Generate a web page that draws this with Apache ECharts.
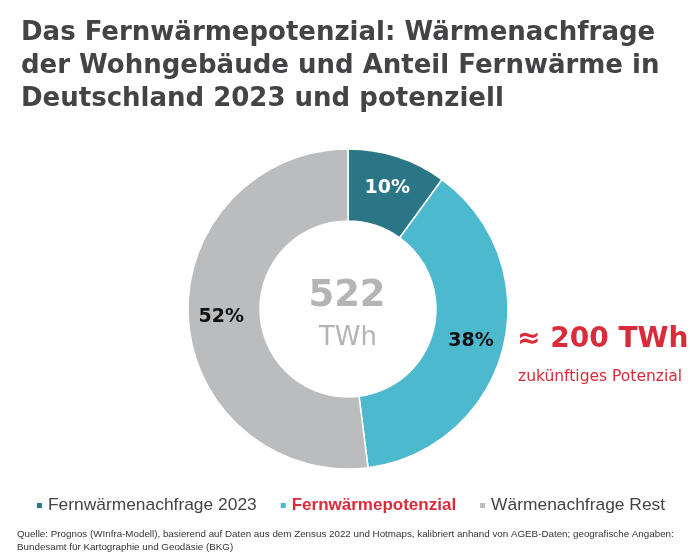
<!DOCTYPE html>
<html><head><meta charset="utf-8">
<script src="https://cdn.jsdelivr.net/npm/echarts@6/dist/echarts.min.js"></script>
<style>html,body{margin:0;padding:0;background:#fff}#c{width:700px;height:557px}</style>
</head><body><div id="c"></div>
<script>
const categories = ['Fernwärmenachfrage 2023', 'Fernwärmepotenzial', 'Wärmenachfrage Rest'];
const shares = [10, 38, 52];
const colors = ['#2b7686', '#4db9ce', '#bbbcbe'];
const labelColors = ['#ffffff', '#111111', '#111111'];
const totalText = ['522', 'TWh'];
const potentialText = ['≈ 200 TWh', 'zukünftiges Potenzial'];
const titleText = 'Das Fernwärmepotenzial: Wärmenachfrage\nder Wohngebäude und Anteil Fernwärme in\nDeutschland 2023 und potenziell';
const sourceText = 'Quelle: Prognos (WInfra-Modell), basierend auf Daten aus dem Zensus 2022 und Hotmaps, kalibriert anhand von AGEB-Daten; geografische Angaben:\nBundesamt für Kartographie und Geodäsie (BKG)';

const chart = echarts.init(document.getElementById('c'), null, {renderer: 'canvas'});
const fontD = '"DejaVu Sans", Verdana, sans-serif';
const fontL = '"Liberation Sans", Arial, sans-serif';
chart.setOption({
  animation: false,
  textStyle: {fontFamily: fontL},
  title: {
    text: titleText, left: 16, top: 12,
    textStyle: {fontSize: 26, fontWeight: 'bold', color: '#444446', lineHeight: 33, fontFamily: fontD}
  },
  legend: {
    data: categories, bottom: 38, left: 'center',
    icon: 'rect', itemWidth: 7, itemHeight: 7, itemGap: 22,
    formatter: n => n === 'Fernwärmepotenzial' ? '{b|' + n + '}' : '{a|' + n + '}',
    textStyle: {
      rich: {
        a: {fontSize: 17.4, color: '#444446', fontFamily: fontL},
        b: {fontSize: 17, color: '#d92b3a', fontWeight: 'bold', fontFamily: fontL}
      }
    }
  },
  series: [{
    type: 'pie', center: [348, 309], radius: [88, 160], startAngle: 90, clockwise: true,
    itemStyle: {borderColor: '#fff', borderWidth: 1.5},
    label: {
      position: 'inside', formatter: '{c}%', fontSize: 19, fontWeight: 'bold', fontFamily: fontD
    },
    emphasis: {disabled: true},
    data: categories.map((n, i) => ({
      name: n, value: shares[i],
      itemStyle: {color: colors[i]},
      label: {color: labelColors[i]}
    }))
  }],
  graphic: [
    {type: 'text', position: [347, 296], style: {text: totalText[0], x: 0, y: 0, align: 'center', verticalAlign: 'middle', font: 'bold 37px ' + fontD, fill: '#b4b4b6'}},
    {type: 'text', position: [348, 338], style: {text: totalText[1], x: 0, y: 0, align: 'center', verticalAlign: 'middle', font: '26px ' + fontD, fill: '#b4b4b6'}},
    {type: 'text', position: [517, 340], style: {text: potentialText[0], x: 0, y: 0, align: 'left', verticalAlign: 'middle', font: 'bold 28px ' + fontD, fill: '#d92b3a'}},
    {type: 'text', position: [518, 377], style: {text: potentialText[1], x: 0, y: 0, align: 'left', verticalAlign: 'middle', font: '15.5px ' + fontD, fill: '#d92b3a'}},
    {type: 'text', position: [17, 528], style: {text: sourceText, x: 0, y: 0, align: 'left', verticalAlign: 'top', font: '9.8px ' + fontL, fill: '#333', lineHeight: 13}}
  ]
});
</script></body></html>
